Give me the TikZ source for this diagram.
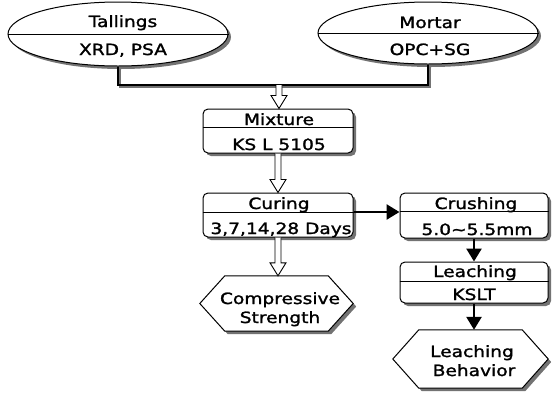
\documentclass[tikz,border=0pt]{standalone}
\usepackage{fontspec}
\setmainfont{DejaVu Sans}[FakeStretch=1.2,FakeBold=1.5]
\usetikzlibrary{shapes.geometric,arrows.meta,calc}
\newcommand\myhex[2]{%
  \fill[shadowcol] ([shift={(3pt,-3pt)}]#1.west) -- ([shift={(#2+3pt,-3pt)}]#1.north west) -- ([shift={(-#2+3pt,-3pt)}]#1.north east) -- ([shift={(3pt,-3pt)}]#1.east) -- ([shift={(-#2+3pt,-3pt)}]#1.south east) -- ([shift={(#2+3pt,-3pt)}]#1.south west) -- cycle;
  \draw[line width=1pt, fill=white] (#1.west) -- ([xshift=#2]#1.north west) -- ([xshift=-#2]#1.north east) -- (#1.east) -- ([xshift=-#2]#1.south east) -- ([xshift=#2]#1.south west) -- cycle;}
\colorlet{shadowcol}{black!55}
\begin{document}
\begin{tikzpicture}[x=1pt,y=-1pt,
  lbl/.style={anchor=base, inner sep=0, font=\fontsize{15.5}{19}\selectfont},
  ell/.style={ellipse, draw, line width=1pt, fill=white, inner sep=0},
  ellsh/.style={ellipse, fill=shadowcol, inner sep=0},
  stepbox/.style={rectangle, draw, line width=1pt, rounded corners=5pt, fill=white, inner sep=0},
  boxsh/.style={rectangle, fill=shadowcol, rounded corners=5pt, inner sep=0},
  divider/.style={line width=0.8pt},
  hexbox/.style={rectangle, inner sep=0},
  farrow/.style={line width=2.6pt, -{Triangle[length=13pt,width=15pt]}},
  hollow/.style={line width=0.9pt, fill=white, to path={let \p1=(\tikztostart), \p2=(\tikztotarget) in
     (\x1-3pt,\y1) -- (\x1-3pt,\y2+13pt) -- (\x1-8pt,\y2+13pt) -- (\x1,\y2) -- (\x1+8pt,\y2+13pt) -- (\x1+3pt,\y2+13pt) -- (\x1+3pt,\y1)}},
  conn/.style={line width=2.4pt}]
\useasboundingbox (0,0) rectangle (552,392);

% top ellipses
\node[ellsh, minimum width=220pt, minimum height=64pt] (talsh) at (121,37) {};
\node[ell, minimum width=220pt, minimum height=64pt] (tal) at (118,34) {};
\draw[divider] (tal.west) -- (tal.east);
\node[lbl] at (123,27) {Tallings};
\node[lbl] at (123,55) {XRD, PSA};

\node[ellsh, minimum width=220pt, minimum height=62pt] (morsh) at (431,36) {};
\node[ell, minimum width=220pt, minimum height=62pt] (mor) at (428,33) {};
\draw[divider] (mor.west) -- (mor.east);
\node[lbl] at (430,28) {Mortar};
\node[lbl] at (430,55) {OPC+SG};

% joining connector
\coordinate (j) at (279,85);
\draw[conn, shadowcol] ([shift={(2pt,-2pt)}]tal.south) |- ([shift={(2pt,-2pt)}]j) -| ([shift={(2pt,-2pt)}]mor.south);
\draw[conn] (tal.south) |- (j) -| (mor.south);

% Mixture
\node[boxsh, minimum width=150pt, minimum height=44pt] (mixsh) at (281,134) {};
\node[stepbox, minimum width=150pt, minimum height=44pt] (mix) at (278,131) {};
\draw[divider] ([yshift=-19pt]mix.north west) -- ([yshift=-19pt]mix.north east);
\node[lbl] at (279,125) {Mixture};
\node[lbl] at (279,150) {KS L 5105};
\draw[hollow] (j) to (mix.north);

% Curing
\node[boxsh, minimum width=150pt, minimum height=44pt] (cursh) at (281,218) {};
\node[stepbox, minimum width=150pt, minimum height=44pt] (cur) at (278,215) {};
\draw[divider] ([yshift=-20pt]cur.north west) -- ([yshift=-20pt]cur.north east);
\node[lbl] at (279,209) {Curing};
\node[lbl] at (281,234) {3,7,14,28 Days};
\draw[hollow] (mix.south) to (cur.north);

% Compressive strength
\node[hexbox, minimum width=153pt, minimum height=55pt] (cs) at (276.5,303.5) {};
\myhex{cs}{25pt}
\node[lbl] at (280,304) {Compressive};
\node[lbl] at (280,323) {Strength};
\draw[hollow] (cur.south) to (cur.south |- cs.north);

% Crushing
\node[boxsh, minimum width=148pt, minimum height=45pt] (crush) at (477,218.5) {};
\node[stepbox, minimum width=148pt, minimum height=45pt] (cru) at (474,215.5) {};
\draw[divider] ([yshift=-19pt]cru.north west) -- ([yshift=-19pt]cru.north east);
\node[lbl] at (476,209) {Crushing};
\node[lbl] at (477,235) {5.0\textasciitilde5.5mm};
\draw[farrow] ([yshift=3pt]cur.east) -- ([yshift=3pt]cur.east -| cru.west);

% Leaching
\node[boxsh, minimum width=148pt, minimum height=41pt] (leash) at (477,285.5) {};
\node[stepbox, minimum width=148pt, minimum height=41pt] (lea) at (474,282.5) {};
\draw[divider] ([yshift=-20pt]lea.north west) -- ([yshift=-20pt]lea.north east);
\node[lbl] at (475,277) {Leaching};
\node[lbl] at (474,300) {KSLT};
\draw[farrow] (cru.south) -- (lea.north);

% Leaching behavior
\node[hexbox, minimum width=155pt, minimum height=58pt] (lb) at (470.5,359) {};
\myhex{lb}{26pt}
\node[lbl] at (472,357) {Leaching};
\node[lbl] at (474,376) {Behavior};
\draw[farrow] (lea.south) -- (lea.south |- lb.north);
\end{tikzpicture}
\end{document}
